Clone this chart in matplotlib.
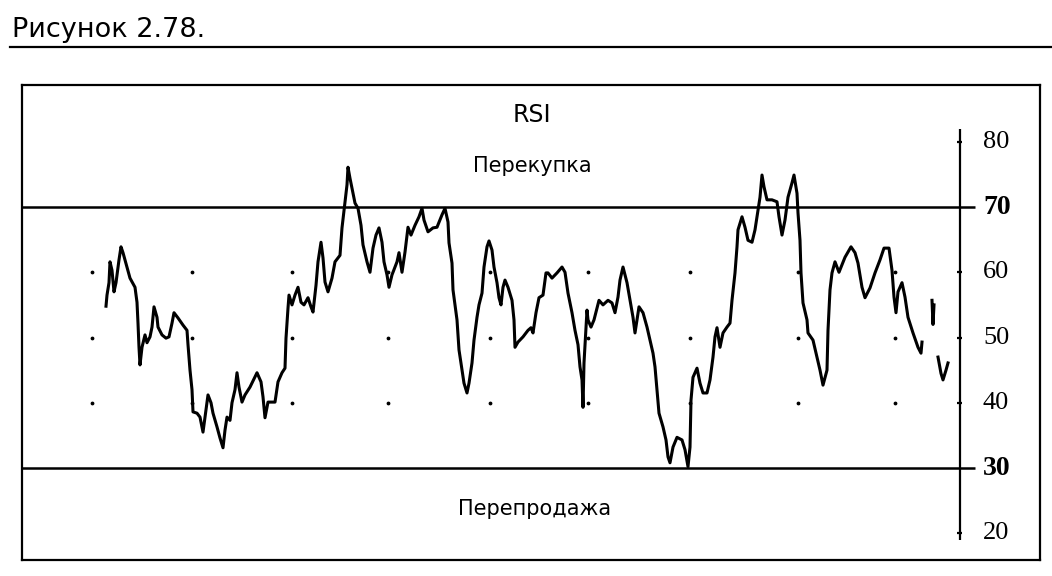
import numpy as np
import matplotlib.pyplot as plt
from matplotlib.lines import Line2D

# RSI readings taken from the figure (bar number, value); NaN = gap in the print
bars = [6, 7, 9, 10, 12, 14, 16, 17, 19, 21, 23, 27, 30, 35, 37, 38, 39, 40, 42, 45,
        47, 50, 52, 54, 57, 58, 62, 66, 69, 72, 74, 78, 83, 87, 88, 90, 92, 93, 97, 100,
        102, 103, 106, 108, 111, 113, 117, 120, 123, 125, 127, 130, 132, 135, 137, 139, 142, 145, 150, 157,
        161, 163, 165, 168, 175, 178, 182, 185, 186, 188, 189, 192, 195, 198, 201, 204, 208, 211, 213, 216,
        218, 221, 223, 225, 228, 232, 235, 240, 242, 245, 247, 248, 250, 252, 255, 258, 261, 263, 267, 270,
        273, 276, 279, 282, 284, 287, 289, 292, 297, 299, 302, 305, 308, 311, 315, 319, 322, 324, 328, 333,
        337, 342, 345, 348, 349, 352, 353, 357, 359, 362, 364, 367, 369, 372, 374, 377, 379, 382, 384, 387,
        389, 392, 394, 397, 399, 401, 403, 405, 408, 412, 414, 415, 418, 423, 428, 431, 433, 436, 439, 443,
        446, 448, 452, 457, 462, 465, 468, 472, 475, 478, 480, 482, 483, 484, 487, 488, 491, 494, 499, 503,
        508, 512, 515, 518, 520, 523, 527, 530, 533, 535, 537, 539, 543, 547, 550, 553, 555, 557, 559, 563,
        566, 568, 570, 573, 577, 582, 585, 588, 590, 591, 593, 597, 600, 603, 607, 610, 613, 615, 617, 620,
        623, 627, 630, 632, 635, 637, 638, 642, 645, 648, 652, 655, 658, 660, 662, 664, 667, 672, 677, 679,
        682, 685, 688, 692, 694, 697, 698, 700, 701, 703, 707, 708, 713, 717, 720, 723, 727, 728, 730, 732,
        735, 739, 745, 751, 755, 758, 762, 765, 770, 775, 780, 784, 789, 792, 794, 796, 798, 802, 805, 808,
        813, 818, 821, 822, 827, 832, 833, 834, 836, 838, 841, 843, 846, 848]
rsi = [54.8, 56.5, 58.4, 61.6, 60.3, 57.0, 58.4, 59.6, 61.9, 63.9, 63.0, 60.8, 59.1, 57.7, 55.4, 52.2, 48.5, 45.8, 48.5, 50.4,
       49.2, 50.1, 51.6, 54.7, 53.1, 51.6, 50.4, 49.9, 50.1, 52.2, 53.8, 53.0, 51.9, 51.1, 48.9, 45.0, 42.0, 38.6, 38.4, 37.8,
       36.3, 35.5, 38.9, 41.2, 40.0, 38.4, 36.3, 34.6, 33.1, 35.8, 37.8, 37.3, 40.0, 42.0, 44.6, 42.4, 40.1, 41.2, 42.4, 44.6,
       43.2, 40.9, 37.7, 40.1, 40.1, 43.2, 44.6, 45.3, 49.9, 54.5, 56.5, 55.0, 56.5, 57.7, 55.4, 55.0, 56.1, 54.7, 53.9, 58.0,
       61.6, 64.6, 62.2, 58.5, 57.0, 59.1, 61.6, 62.6, 66.8, 70.8, 73.4, 76.1, 74.4, 72.9, 70.6, 69.8, 67.2, 64.2, 61.6, 60.0,
       63.7, 65.7, 66.8, 64.6, 61.6, 59.6, 57.7, 59.6, 61.6, 63.0, 60.0, 63.1, 66.9, 65.7, 67.2, 68.5, 69.8, 68.0, 66.2, 66.8,
       66.9, 68.8, 69.8, 67.7, 64.5, 61.4, 57.3, 52.7, 48.1, 45.0, 43.0, 41.5, 43.0, 46.1, 49.6, 53.1, 55.0, 56.8, 60.8, 63.9,
       64.8, 63.4, 60.8, 58.4, 56.1, 55.0, 57.7, 58.8, 57.7, 55.7, 52.7, 48.5, 49.3, 50.1, 51.1, 51.5, 50.7, 53.8, 56.1, 56.5,
       59.9, 59.9, 59.1, 59.9, 60.8, 60.0, 56.8, 53.8, 51.1, 48.9, 45.5, 43.5, 39.3, 46.1, 54.2, 52.7, 51.6, 52.7, 55.7, 55.0,
       55.7, 55.3, 53.8, 56.2, 58.8, 60.8, 58.4, 55.7, 53.1, 50.7, 52.7, 54.7, 53.8, 51.6, 49.6, 47.6, 45.5, 42.0, 38.4, 36.3,
       34.3, 31.7, 30.8, 33.2, 34.7, 34.3, 32.8, 30.2, 33.2, 40.4, 43.9, 45.3, 43.0, 41.5, 41.5, 43.5, 47.0, 50.1, 51.5, 48.5,
       50.7, 51.6, 52.2, 55.7, 59.9, 63.9, 66.5, 68.5, 66.9, 64.9, 64.6, 66.5, 69.5, 71.5, 74.9, 73.1, 71.1, 71.1, 70.8, 68.5,
       65.7, 68.0, 71.5, 73.7, 74.9, 72.1, 69.1, 64.9, 59.9, 55.3, 52.7, 50.7, 49.6, 47.0, 45.0, 42.7, 45.0, 51.1, 57.3, 59.9,
       61.6, 60.0, 62.3, 63.9, 63.0, 61.4, 57.7, 56.1, 57.6, 59.9, 61.9, 63.7, 63.7, 60.3, 56.2, 53.8, 57.0, 58.4, 56.2, 53.1,
       50.7, 48.5, 47.6, 49.3, np.nan, 55.7, 52.0, 55.0, np.nan, 47.0, 44.5, 43.5, 45.0, 46.1]

levels = [30, 70]
tick_values = [20, 40, 50, 60, 80]
tick_labels_all = [20, 30, 40, 50, 60, 70, 80]
grid_bars = [-8, 92, 192, 288, 390, 488, 590, 698, 795]
grid_levels = [40, 50, 60]

fig = plt.figure(figsize=(10.52, 5.76), dpi=100)

# caption and rule under it
fig.text(12 / 1052, 1 - 30 / 576, 'Рисунок 2.78.', fontsize=19.5, va='center', ha='left',
         family='DejaVu Sans')
fig.add_artist(Line2D([10 / 1052, 1.0], [1 - 47 / 576, 1 - 47 / 576], color='black', lw=1.6))

ax = fig.add_axes([22 / 1052, 16 / 576, 1018 / 1052, 475 / 576])
ax.set_xlim(-78, 940)
ax.set_ylim(15.9, 88.7)
ax.set_xticks([])
ax.set_yticks([])
for sp in ax.spines.values():
    sp.set_linewidth(1.6)

# grid dots
gx, gy = np.meshgrid(grid_bars, grid_levels)
ax.scatter(gx.ravel(), gy.ravel(), s=3, color='black', zorder=2)

# overbought / oversold lines
ax.hlines(levels, -78, 875, color='black', lw=1.8)

# right-hand scale
ax.vlines(860, 19.0, 82.0, color='black', lw=1.6)
ax.hlines(tick_values, 857, 862, color='black', lw=1.6)
for v in tick_labels_all:
    bold = v in levels
    ax.text(883, v, str(v), ha='left', va='center', family='Liberation Serif',
            fontsize=20 if bold else 19, fontweight='bold' if bold else 'normal')

ax.plot(bars, rsi, color='black', lw=2.2, zorder=3)

ax.text(432, 84.1, 'RSI', ha='center', va='center', fontsize=17)
ax.text(432, 76.3, 'Перекупка', ha='center', va='center', fontsize=15)
ax.text(435, 23.7, 'Перепродажа', ha='center', va='center', fontsize=15)

fig.savefig('out.png', dpi=100)
